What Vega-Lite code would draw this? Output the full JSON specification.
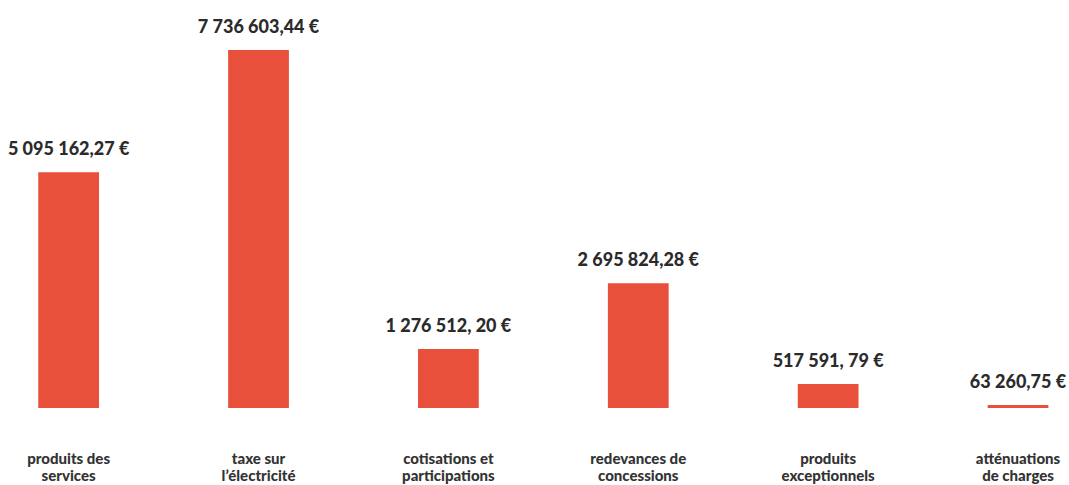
{
  "$schema": "https://vega.github.io/schema/vega-lite/v6.json",
  "width": 1069,
  "height": 408,
  "autosize": {"type": "none"},
  "padding": {"left": 0, "right": 0, "top": 0, "bottom": 77},
  "background": "white",
  "config": {"view": {"stroke": null}},
  "data": {
    "values": [
      {"categorie": "produits des|services", "montant": 5095162.27, "etiquette": "5 095 162,27 €"},
      {"categorie": "taxe sur|l’électricité", "montant": 7736603.44, "etiquette": "7 736 603,44 €"},
      {"categorie": "cotisations et|participations", "montant": 1276512.20, "etiquette": "1 276 512, 20 €"},
      {"categorie": "redevances de|concessions", "montant": 2695824.28, "etiquette": "2 695 824,28 €"},
      {"categorie": "produits|exceptionnels", "montant": 517591.79, "etiquette": "517 591, 79 €"},
      {"categorie": "atténuations|de charges", "montant": 63260.75, "etiquette": "63 260,75 €"}
    ]
  },
  "encoding": {
    "x": {
      "field": "categorie",
      "type": "nominal",
      "sort": null,
      "scale": {"paddingInner": 0.68, "paddingOuter": 0.155, "align": 0.65},
      "axis": {
        "title": null,
        "domain": false,
        "ticks": false,
        "labelAngle": 0,
        "labelPadding": 43,
        "labelFont": "Lato",
        "labelFontWeight": 900,
        "labelFontSize": 15,
        "labelColor": "#333333",
        "labelLineHeight": 17,
        "labelExpr": "split(datum.value, '|')"
      }
    },
    "y": {
      "field": "montant",
      "type": "quantitative",
      "scale": {"domain": [0, 8818000]},
      "axis": null
    }
  },
  "layer": [
    {
      "mark": {"type": "bar", "color": "#e8503b"}
    },
    {
      "mark": {
        "type": "text",
        "baseline": "bottom",
        "dy": -13,
        "font": "Lato",
        "fontWeight": 900,
        "fontSize": 18,
        "color": "#2b2b2b"
      },
      "encoding": {"text": {"field": "etiquette"}}
    }
  ]
}
